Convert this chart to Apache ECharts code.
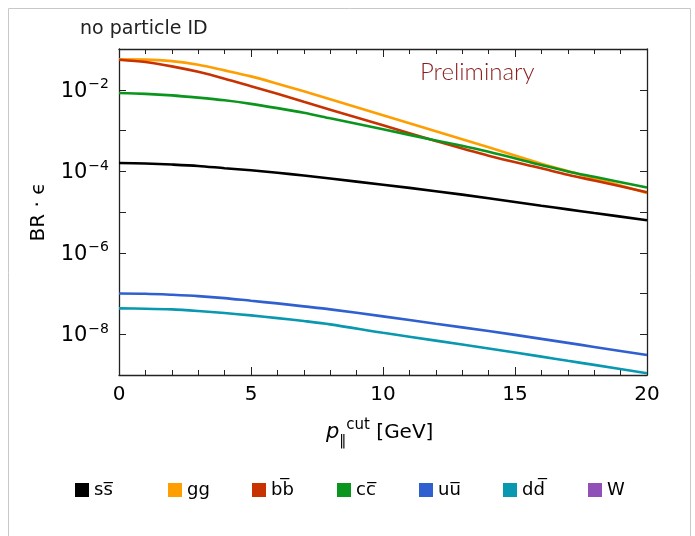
<!DOCTYPE html>
<html>
<head>
<meta charset="utf-8">
<script src="https://cdn.jsdelivr.net/npm/echarts@6/dist/echarts.min.js"></script>
<style>
html,body{margin:0;padding:0;background:#fff;}
#chart{width:695px;height:536px;}
</style>
</head>
<body>
<div id="chart"></div>
<script>
// p_parallel^cut values (GeV)
var pcut = [0, 1, 2, 3, 4, 5, 6, 7, 8, 10, 12, 14, 16, 17, 18, 20];
// BR * efficiency per channel
var ssbar = [1.60e-4, 1.55e-4, 1.46e-4, 1.35e-4, 1.19e-4, 1.06e-4, 9.18e-5, 7.85e-5, 6.62e-5, 4.67e-5, 3.24e-5, 2.18e-5, 1.43e-5, 1.16e-5, 9.44e-6, 6.30e-6];
var gg    = [5.56e-2, 5.50e-2, 5.05e-2, 4.12e-2, 2.99e-2, 2.13e-2, 1.41e-2, 9.14e-3, 5.82e-3, 2.38e-3, 9.55e-4, 3.87e-4, 1.53e-4, 1.01e-4, 6.73e-5, 2.94e-5];
var bbbar = [5.47e-2, 4.78e-2, 3.75e-2, 2.75e-2, 1.87e-2, 1.22e-2, 7.94e-3, 5.05e-3, 3.24e-3, 1.34e-3, 5.53e-4, 2.40e-4, 1.18e-4, 8.20e-5, 5.92e-5, 3.05e-5];
var ccbar = [8.30e-3, 7.94e-3, 7.29e-3, 6.40e-3, 5.50e-3, 4.51e-3, 3.54e-3, 2.72e-3, 1.99e-3, 1.07e-3, 5.69e-4, 3.00e-4, 1.42e-4, 9.89e-5, 7.29e-5, 3.98e-5];
var uubar = [1.00e-7, 9.84e-8, 9.29e-8, 8.63e-8, 7.71e-8, 6.62e-8, 5.71e-8, 4.83e-8, 4.07e-8, 2.75e-8, 1.81e-8, 1.20e-8, 7.71e-9, 6.15e-9, 4.89e-9, 3.09e-9];
var ddbar = [4.32e-8, 4.24e-8, 4.07e-8, 3.71e-8, 3.31e-8, 2.90e-8, 2.49e-8, 2.11e-8, 1.75e-8, 1.09e-8, 6.97e-9, 4.47e-9, 2.82e-9, 2.23e-9, 1.77e-9, 1.10e-9];
var ww    = [];

var names = ['s\u0073\u0305', 'gg', 'b\u0062\u0305', 'c\u0063\u0305', 'u\u0075\u0305', 'd\u0064\u0305', 'W'];
var colors = ['#000000', '#ff9e00', '#c83200', '#0a961e', '#3060d0', '#0898b0', '#9050b8'];
var values = [ssbar, gg, bbbar, ccbar, uubar, ddbar, ww];

var FONT = 'DejaVu Sans';
var legendLeft = [75, 168, 252, 337, 419, 503, 588];

var chart = echarts.init(document.getElementById('chart'));

function pairs(arr){ return arr.map(function(v,i){ return [pcut[i], v]; }); }

var series = values.map(function(arr, k){
  return {
    name: names[k], type: 'line', data: pairs(arr), showSymbol: false, symbol: 'none',
    smooth: 0.3, color: colors[k], lineStyle: {width: 2.6, color: colors[k]},
    itemStyle: {color: colors[k]}, xAxisIndex: 0, yAxisIndex: 0, z: 2 + k
  };
});

var legends = names.map(function(n, k){
  return {
    data: [n], left: legendLeft[k], top: 481, padding: 0, itemWidth: 14, itemHeight: 14,
    icon: 'rect', selectedMode: false,
    textStyle: {fontSize: 18, color: '#000', fontFamily: FONT}
  };
});

var axisLineStyle = {color: '#222', width: 1.3};

option = {
  animation: false,
  backgroundColor: '#fff',
  textStyle: {fontFamily: FONT},
  grid: {left: 119, right: 48, top: 49, bottom: 161, containLabel: false},
  xAxis: [{
    type: 'value', min: 0, max: 20, interval: 5,
    axisLine: {show: true, lineStyle: axisLineStyle},
    axisTick: {show: true, inside: true, length: 8, lineStyle: {color: '#222', width: 1}},
    minorTick: {show: true, splitNumber: 5, length: 5, lineStyle: {color: '#222', width: 1}},
    splitLine: {show: false},
    axisLabel: {fontSize: 20, color: '#000', margin: 10, fontFamily: FONT}
  }, {
    type: 'value', min: 0, max: 20, interval: 5, position: 'top',
    axisLine: {show: true, onZero: false, lineStyle: axisLineStyle},
    axisTick: {show: true, inside: true, length: 8, lineStyle: {color: '#222', width: 1}},
    minorTick: {show: true, splitNumber: 5, length: 5, lineStyle: {color: '#222', width: 1}},
    splitLine: {show: false},
    axisLabel: {show: false}
  }],
  yAxis: [{
    type: 'log', logBase: 10, min: 1e-9, max: 1e-1, interval: 1,
    name: 'BR \u00b7 \u03f5', nameLocation: 'middle', nameGap: 70, nameRotate: 90,
    nameTextStyle: {fontSize: 20, color: '#000', fontFamily: FONT},
    axisLine: {show: true, lineStyle: axisLineStyle},
    axisTick: {show: true, inside: true, length: 7, lineStyle: {color: '#222', width: 1}},
    splitLine: {show: false},
    axisLabel: {
      margin: 10, color: '#000', fontFamily: FONT,
      formatter: function(v){
        var e = Math.round(Math.log10(v));
        if (e % 2 !== 0 || e === -9 || e === -1) return '';
        return '{b|10}{s|\u2212' + (-e) + '}';
      },
      rich: {
        b: {fontSize: 21, fontFamily: FONT, color: '#000', verticalAlign: 'bottom', lineHeight: 24},
        s: {fontSize: 14, fontFamily: FONT, color: '#000', verticalAlign: 'top', lineHeight: 24, padding: [0,0,0,1]}
      }
    }
  }, {
    type: 'log', logBase: 10, min: 1e-9, max: 1e-1, interval: 1, position: 'right',
    axisLine: {show: true, onZero: false, lineStyle: axisLineStyle},
    axisTick: {show: true, inside: true, length: 7, lineStyle: {color: '#222', width: 1}},
    splitLine: {show: false},
    axisLabel: {show: false}
  }],
  legend: legends,
  graphic: [
    {type: 'rect', shape: {x: 8.5, y: 8.5, width: 682, height: 540}, style: {fill: 'none', stroke: '#c8c8c8', lineWidth: 1}, silent: true, z: -1},
    {type: 'text', left: 80, top: 20, style: {text: 'no particle ID', font: '19px "DejaVu Sans"', fill: '#222'}},
    {type: 'text', left: 420, top: 60, style: {text: 'Preliminary', font: '300 24px Lato', fill: '#8b1c1c'}},
    {type: 'text', left: 326, top: 418, style: {
      text: '{p|p}{sub|\u2016}{sup|cut}{n| [GeV]}',
      rich: {
        p: {fontSize: 21, fontStyle: 'italic', fontFamily: FONT, fill: '#000', verticalAlign: 'middle', lineHeight: 30},
        sub: {fontSize: 14, fontFamily: FONT, fill: '#000', verticalAlign: 'bottom', lineHeight: 30, padding: [0,0,0,0]},
        sup: {fontSize: 15, fontFamily: FONT, fill: '#000', verticalAlign: 'top', lineHeight: 30},
        n: {fontSize: 20, fontFamily: FONT, fill: '#000', verticalAlign: 'middle', lineHeight: 30}
      }
    }}
  ],
  series: series
};
chart.setOption(option);
</script>
</body>
</html>
